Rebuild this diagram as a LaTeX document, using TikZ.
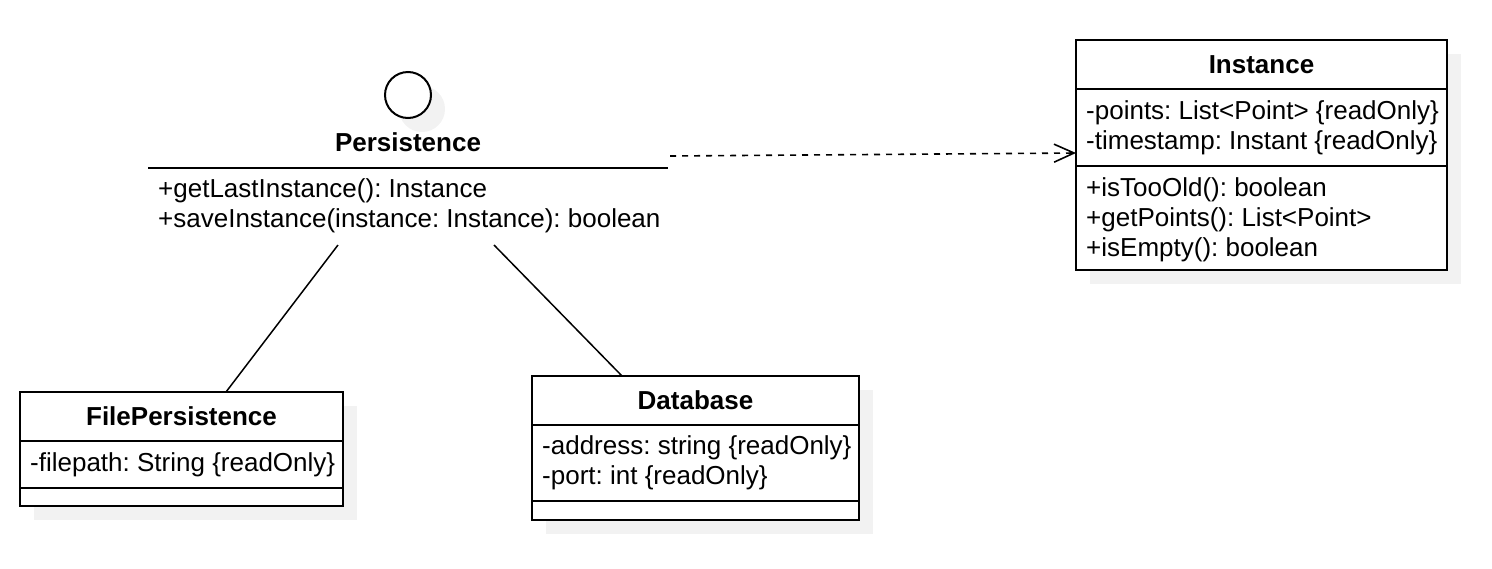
\documentclass[tikz,border=0pt]{standalone}
\usepackage{fontspec}
\setmainfont{Liberation Sans}
\usetikzlibrary{arrows.meta,positioning}
\definecolor{shadowgray}{HTML}{F2F2F2}
\frenchspacing
\begin{document}
\begin{tikzpicture}[x=1pt, y=-1pt,
    every node/.style={font=\fontsize{26}{30}\selectfont},
    cbox/.style={draw, line width=2pt, anchor=north west, inner sep=0pt, outer sep=0pt, fill=white},
    title/.style={font=\fontsize{26}{30}\selectfont\bfseries},
    members/.style={align=left, inner sep=0pt},
    depline/.style={line width=1.6pt, dash pattern=on 6pt off 6pt}]
  \useasboundingbox (0,0) rectangle (1492,568);
  % shadows
  \fill[shadowgray] (422,109) circle[radius=23pt];
  \fill[shadowgray] (1090,54) rectangle (1461,284);
  \fill[shadowgray] (34,406) rectangle (357,520);
  \fill[shadowgray] (546,390) rectangle (873,534);
  % interface Persistence
  \node[circle, draw, line width=2pt, minimum size=46pt, inner sep=0pt, fill=white] (persist-icon) at (408,95) {};
  \node[title] (persist) at (408,142) {Persistence};
  \coordinate (persist-l) at (148,168);
  \coordinate (persist-r) at (668,168);
  \draw[line width=2pt] (persist-l) -- (persist-r);
  \node[members, anchor=west] (persist-ops) at (158,206) {+getLastInstance(): Instance\\+saveInstance(instance: Instance): boolean};
  % class Instance
  \node[cbox, title, minimum width=371pt, minimum height=49pt] (inst-title) at (1076,40) {Instance};
  \node[cbox, minimum width=371pt, minimum height=77pt] (inst-attr) at (inst-title.south west) {};
  \node[members, right=10pt of inst-attr.west] (inst-attr-text) {-points: List<Point> \{readOnly\}\\-timestamp: Instant \{readOnly\}};
  \node[cbox, minimum width=371pt, minimum height=104pt] (inst-ops) at (inst-attr.south west) {};
  \node[members, right=10pt of inst-ops.west, yshift=-1.5pt] (inst-ops-text) {+isTooOld(): boolean\\+getPoints(): List<Point>\\+isEmpty(): boolean};
  % class FilePersistence
  \node[cbox, title, minimum width=323pt, minimum height=49pt] (filep-title) at (20,392) {FilePersistence};
  \node[cbox, minimum width=323pt, minimum height=47pt] (filep-attr) at (filep-title.south west) {};
  \node[members, right=10pt of filep-attr.west] (filep-attr-text) {-filepath: String \{readOnly\}};
  \node[cbox, minimum width=323pt, minimum height=18pt] (filep-ops) at (filep-attr.south west) {};
  % class Database
  \node[cbox, title, minimum width=327pt, minimum height=49pt] (db-title) at (532,376) {Database};
  \node[cbox, minimum width=327pt, minimum height=76pt] (db-attr) at (db-title.south west) {};
  \node[members, right=10pt of db-attr.west] (db-attr-text) {-address: string \{readOnly\}\\-port: int \{readOnly\}};
  \node[cbox, minimum width=327pt, minimum height=19pt] (db-ops) at (db-attr.south west) {};
  % connectors
  \coordinate (persist-a) at (338,245);
  \coordinate (persist-b) at (494,245);
  \coordinate (dep-start) at (670,156);
  \begin{scope}[line width=1.5pt]
    \draw (persist-a) -- ([xshift=44.5pt]filep-title.north);
    \draw (persist-b) -- ([xshift=-73.5pt]db-title.north);
    \draw[depline, -{Straight Barb[length=20pt,width=18pt]}] (dep-start) -- ([yshift=-25.5pt]inst-attr.west);
  \end{scope}
\end{tikzpicture}
\end{document}
